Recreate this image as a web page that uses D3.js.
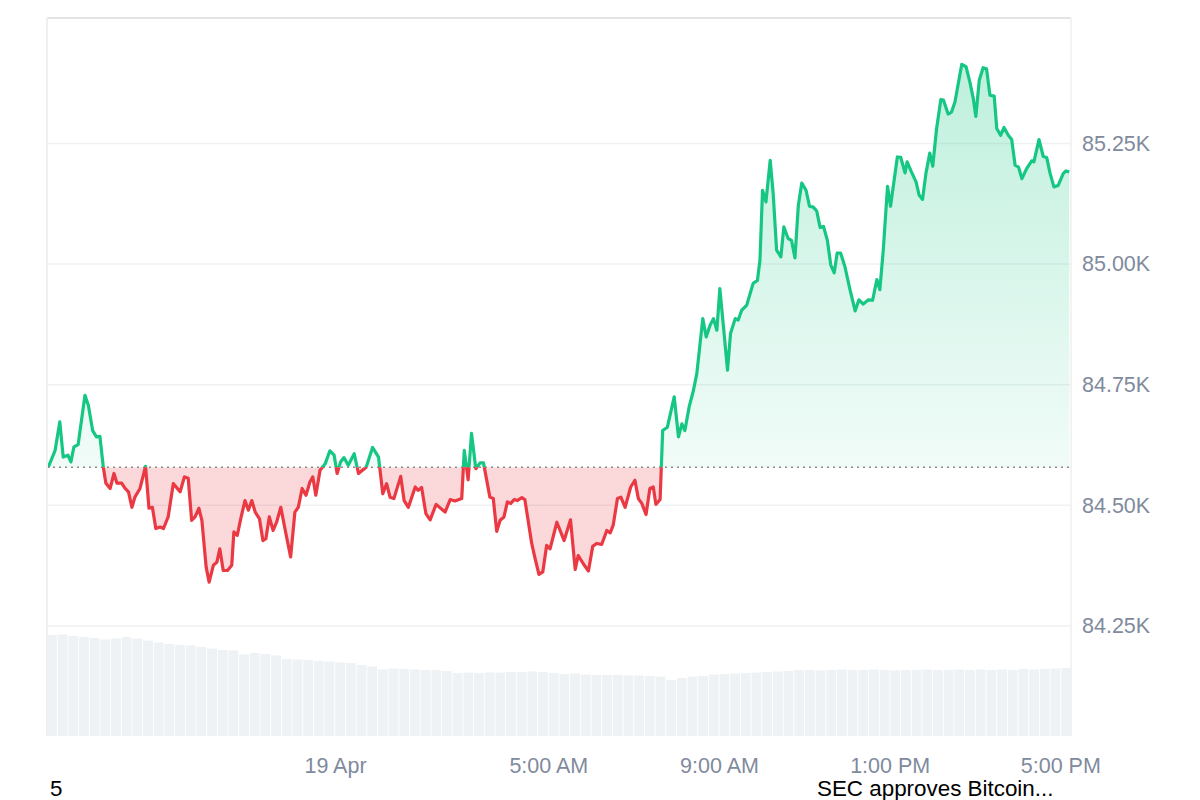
<!DOCTYPE html>
<html><head><meta charset="utf-8">
<script src="https://cdn.jsdelivr.net/npm/d3@7"></script>
<style>
html,body{margin:0;padding:0;background:#fff;}
svg{display:block;font-family:"Liberation Sans",Arial,Helvetica,sans-serif;}
</style></head><body>
<svg id="chart" width="1200" height="800"></svg>
<script>
// time in hours since 18 Apr 00:00
const hours = [17.28,17.44,17.55,17.63,17.74,17.81,17.88,17.98,18.14,18.22,18.32,18.41,18.49,18.57,18.63,18.73,18.82,18.89,19.00,19.08,19.16,19.24,19.31,19.43,19.56,19.64,19.72,19.80,19.90,19.98,20.09,20.21,20.37,20.47,20.56,20.64,20.72,20.81,20.88,20.98,21.05,21.15,21.23,21.30,21.38,21.48,21.58,21.63,21.71,21.79,21.89,21.97,22.05,22.13,22.23,22.31,22.38,22.46,22.55,22.63,22.73,22.85,22.96,23.06,23.14,23.23,23.32,23.41,23.48,23.55,23.65,23.77,23.88,23.98,24.05,24.13,24.21,24.31,24.45,24.55,24.73,24.88,25.02,25.12,25.21,25.29,25.38,25.54,25.62,25.72,25.88,25.95,26.03,26.13,26.23,26.37,26.58,26.70,26.81,26.97,27.03,27.12,27.20,27.30,27.40,27.48,27.63,27.71,27.79,27.87,27.96,28.04,28.12,28.20,28.27,28.38,28.45,28.61,28.70,28.78,28.87,28.96,29.04,29.20,29.37,29.52,29.63,29.70,29.82,29.94,30.04,30.13,30.25,30.37,30.45,30.52,30.62,30.70,30.80,30.93,31.03,31.11,31.19,31.29,31.38,31.46,31.52,31.62,31.68,31.79,31.95,32.05,32.13,32.20,32.30,32.40,32.48,32.62,32.70,32.79,32.87,32.95,33.02,33.12,33.20,33.27,33.38,33.45,33.53,33.65,33.73,33.80,33.90,33.96,34.02,34.10,34.20,34.27,34.35,34.45,34.52,34.62,34.70,34.78,34.86,34.94,35.04,35.12,35.21,35.29,35.37,35.45,35.54,35.62,35.70,35.77,35.85,35.95,36.07,36.19,36.28,36.38,36.50,36.60,36.70,36.77,36.85,36.95,37.02,37.18,37.26,37.36,37.41,37.51,37.62,37.69,37.77,37.85,37.94,38.01,38.10,38.20,38.26,38.37,38.45,38.53,38.69,38.79,38.88,38.96,39.02,39.10,39.19,39.27,39.35,39.45,39.51,39.60,39.68,39.78,39.86,39.94,40.02,40.10,40.21,40.33,40.38,40.50,40.60,40.68,40.76,40.85,40.95,41.07,41.13,41.21];
const prices = [84579,84614,84673,84600,84604,84590,84621,84626,84728,84707,84655,84642,84643,84579,84546,84535,84566,84546,84546,84535,84528,84496,84517,84535,84581,84494,84496,84452,84455,84452,84476,84545,84528,84559,84556,84469,84476,84494,84469,84372,84341,84376,84382,84410,84365,84365,84376,84445,84438,84472,84510,84490,84510,84486,84472,84427,84431,84476,84448,84465,84496,84441,84393,84486,84496,84535,84521,84548,84559,84521,84573,84586,84613,84604,84566,84590,84599,84583,84607,84566,84579,84620,84600,84524,84545,84517,84514,84560,84510,84496,84538,84531,84537,84483,84470,84502,84486,84512,84509,84514,84614,84553,84649,84576,84588,84588,84517,84514,84446,84469,84476,84507,84504,84512,84510,84516,84512,84421,84386,84357,84362,84417,84410,84465,84427,84470,84367,84396,84379,84364,84415,84421,84419,84448,84443,84459,84514,84517,84496,84538,84552,84514,84504,84481,84535,84538,84502,84512,84655,84662,84725,84642,84669,84655,84704,84738,84773,84887,84849,84873,84887,84863,84949,84856,84780,84856,84887,84884,84904,84915,84939,84960,84966,85008,85153,85129,85215,85146,85029,85015,85077,85053,85049,85013,85122,85168,85153,85120,85118,85110,85076,85078,85049,84998,84982,85023,85023,84995,84947,84903,84926,84917,84926,84925,84968,84947,85029,85161,85120,85222,85221,85189,85212,85191,85170,85143,85134,85188,85230,85203,85281,85341,85340,85311,85315,85336,85414,85409,85377,85343,85306,85381,85407,85405,85350,85348,85281,85267,85283,85267,85258,85205,85201,85177,85198,85214,85212,85258,85223,85221,85188,85160,85163,85188,85193,85191];
// relative traded volume per 15-min slot
const volumes = [101,101.5,100,99,98,96.5,97.5,99,97.5,95.5,93.5,92,91,90.5,89,87.5,86,85.5,81.5,83,82,80.5,77,76.5,76,75,74.5,73.5,73,71,69.5,66.5,67.5,67,66.5,66,66,65,63,63.5,63,63.5,63.5,64,64,64.5,64,63,62,62.5,61.5,61,61,61,60.5,60.5,60,59.5,56,58,59.5,60,61.5,62,62.5,63,63.5,64,64.5,65,66,66,65.5,66,66.5,66,66,66.5,66,65.5,66,66,66.5,66,66,66.5,66,66.5,66,66.5,66,67,66.5,67,67.5,68];
const priceTicks = [84250, 84500, 84750, 85000, 85250];
const priceTickLabels = ["84.25K","84.50K","84.75K","85.00K","85.25K"];
const timeTicks = [24, 29, 33, 37, 41];
const timeTickLabels = ["19 Apr","5:00 AM","9:00 AM","1:00 PM","5:00 PM"];
const footerLabels = ["5", "SEC approves Bitcoin..."];

const base = new Date(2025, 3, 18).getTime();
const toDate = h => new Date(base + h * 3600e3);
const data = hours.map((h, i) => ({t: toDate(h), v: prices[i]}));
const openPrice = prices[0];

const L = 47, R = 1071, T = 18, B = 736;
const svg = d3.select("#chart");
const x = d3.scaleTime().domain([toDate(17.25), toDate(41.25)]).range([L, R]);
const y = d3.scaleLinear().domain([84022, 85510]).range([B, T]);
const yBase = y(openPrice);

const defs = svg.append("defs");
const g1 = defs.append("linearGradient").attr("id","gUp").attr("gradientUnits","userSpaceOnUse")
  .attr("x1",0).attr("x2",0).attr("y1",T).attr("y2",yBase);
g1.append("stop").attr("offset","0%").attr("stop-color","#16c784").attr("stop-opacity",0.3);
g1.append("stop").attr("offset","100%").attr("stop-color","#16c784").attr("stop-opacity",0.06);
const g2 = defs.append("linearGradient").attr("id","gDn").attr("gradientUnits","userSpaceOnUse")
  .attr("x1",0).attr("x2",0).attr("y1",yBase).attr("y2",B);
g2.append("stop").attr("offset","0%").attr("stop-color","#ea3943").attr("stop-opacity",0.2);
g2.append("stop").attr("offset","100%").attr("stop-color","#ea3943").attr("stop-opacity",0.18);
defs.append("clipPath").attr("id","cUp").append("rect").attr("x",0).attr("y",0).attr("width",1200).attr("height",yBase);
defs.append("clipPath").attr("id","cDn").append("rect").attr("x",0).attr("y",yBase).attr("width",1200).attr("height",800-yBase);

// grid lines
svg.append("g").selectAll("line").data(priceTicks).join("line")
  .attr("x1", L).attr("x2", R).attr("y1", d => y(d)).attr("y2", d => y(d))
  .attr("stroke", "#eff1f3").attr("stroke-width", 1.5);

// volume bars
const xb = d3.scaleBand().domain(d3.range(volumes.length)).range([L, R]).paddingInner(0.08);
const yv = d3.scaleLinear().domain([0, 100]).range([B, B - 100]);
svg.append("g").selectAll("rect").data(volumes).join("rect")
  .attr("x", (d, i) => xb(i)).attr("width", xb.bandwidth())
  .attr("y", d => yv(d)).attr("height", d => B - yv(d))
  .attr("fill", "#eff2f5");

// areas
const area = d3.area().x(d => x(d.t)).y0(yBase).y1(d => y(d.v));
svg.append("path").datum(data).attr("d", area).attr("fill", "url(#gUp)").attr("clip-path","url(#cUp)");
svg.append("path").datum(data).attr("d", area).attr("fill", "url(#gDn)").attr("clip-path","url(#cDn)");

// baseline
svg.append("line").attr("x1", L).attr("x2", R).attr("y1", yBase).attr("y2", yBase)
  .attr("stroke", "#8c8c8c").attr("stroke-width", 1.5).attr("stroke-dasharray", "2,4");

// lines
const line = d3.line().x(d => x(d.t)).y(d => y(d.v));
svg.append("path").datum(data).attr("d", line).attr("fill","none").attr("stroke","#16c784")
  .attr("stroke-width",3.2).attr("stroke-linejoin","round").attr("clip-path","url(#cUp)");
svg.append("path").datum(data).attr("d", line).attr("fill","none").attr("stroke","#ea3943")
  .attr("stroke-width",3.2).attr("stroke-linejoin","round").attr("clip-path","url(#cDn)");

// frame
svg.append("line").attr("x1", L).attr("x2", R).attr("y1", T).attr("y2", T).attr("stroke","#e4e4e4").attr("stroke-width",2);
svg.append("line").attr("x1", L).attr("x2", L).attr("y1", T).attr("y2", B).attr("stroke","#efefef").attr("stroke-width",2);
svg.append("line").attr("x1", R).attr("x2", R).attr("y1", T).attr("y2", B).attr("stroke","#efefef").attr("stroke-width",1.5);

// axes
const yAxis = d3.axisRight(y).tickValues(priceTicks).tickFormat((d, i) => priceTickLabels[i]).tickSize(0).tickPadding(11);
const ya = svg.append("g").attr("transform", `translate(${R},0)`).call(yAxis);
ya.select(".domain").remove();
ya.selectAll("text").attr("fill","#808a9d").attr("font-size",21.5).attr("font-family",'"Liberation Sans",Arial,sans-serif');

const xAxis = d3.axisBottom(x).tickValues(timeTicks.map(toDate)).tickFormat((d, i) => timeTickLabels[i]).tickSize(0).tickPadding(22);
const xa = svg.append("g").attr("transform", `translate(0,${B})`).call(xAxis);
xa.select(".domain").remove();
xa.selectAll("text").attr("fill","#808a9d").attr("font-size",21.5).attr("font-family",'"Liberation Sans",Arial,sans-serif');

// footer texts
svg.append("text").attr("x", 50).attr("y", 796).attr("font-size", 22.4).attr("fill","#000").text(footerLabels[0]);
svg.append("text").attr("x", 817).attr("y", 796).attr("font-size", 22.4).attr("fill","#000").text(footerLabels[1]);
</script>
</body></html>
